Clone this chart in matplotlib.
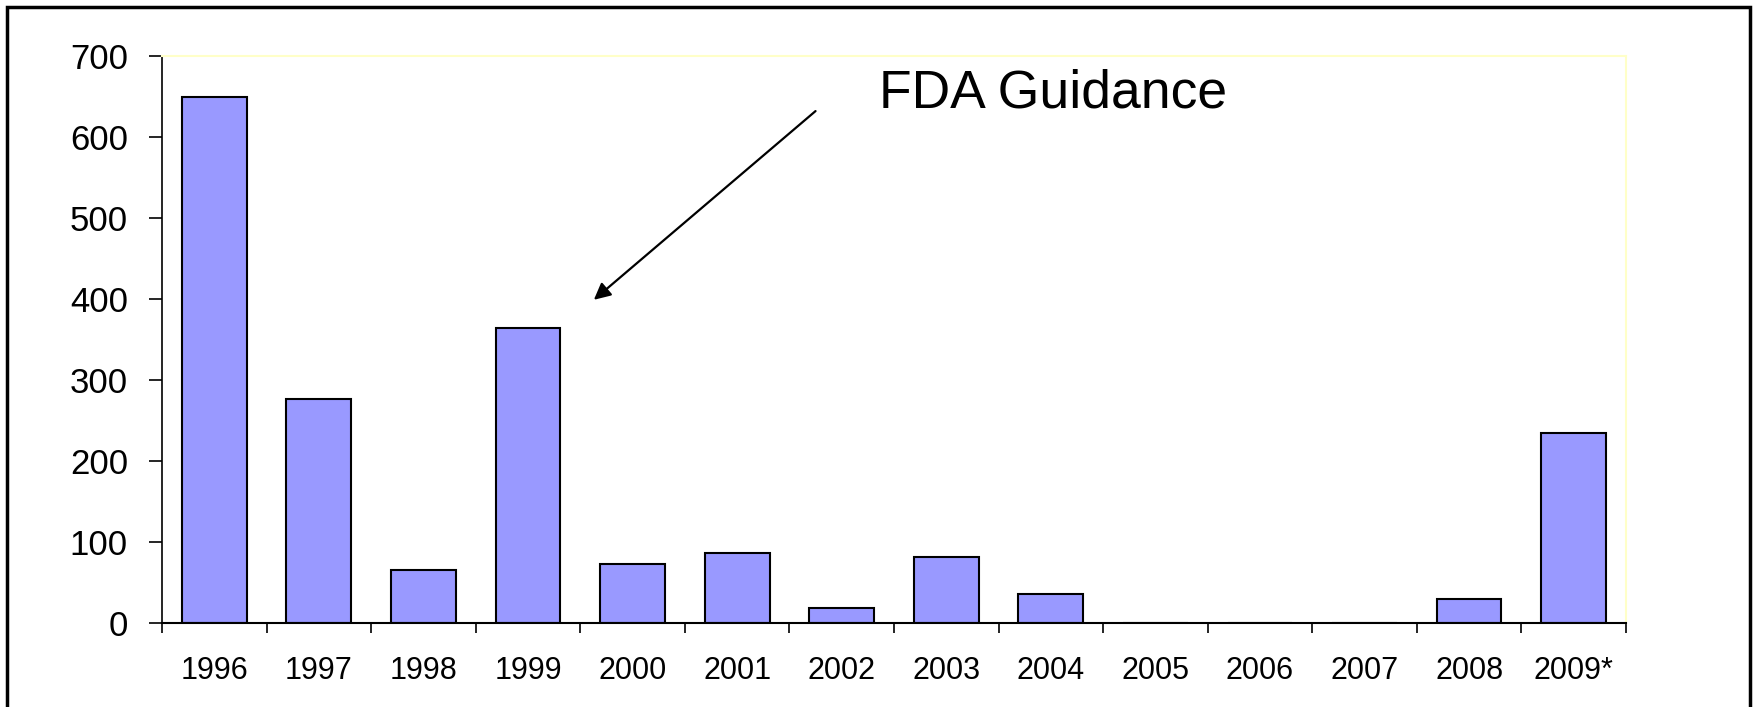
import matplotlib.pyplot as plt
from matplotlib.patches import Rectangle

plt.rcParams['font.family'] = ['Liberation Sans', 'DejaVu Sans']

# data
years = ["1996", "1997", "1998", "1999", "2000", "2001", "2002",
         "2003", "2004", "2005", "2006", "2007", "2008", "2009*"]
counts = [649, 277, 65, 364, 73, 87, 19, 82, 36, 0, 0, 0, 30, 235]

fig = plt.figure(figsize=(17.57, 7.07), dpi=100)
ax = fig.add_axes([0.0922, 0.1188, 0.8332, 0.802])

x = list(range(len(years)))
ax.bar(x, counts, width=0.62, color='#9999FF', edgecolor='black', linewidth=1.5)

ax.set_xlim(-0.5, len(years) - 0.5)
ax.set_ylim(0, 700)
ax.set_yticks(range(0, 701, 100))
ax.tick_params(axis='y', labelsize=25, length=9.5, width=1.2, pad=15)

# labels at bar centres, tick marks between categories
ax.set_xticks(x)
ax.set_xticklabels(years)
ax.set_xticks([i - 0.5 for i in range(len(years) + 1)], minor=True)
ax.tick_params(axis='x', which='major', length=0, labelsize=22, pad=24)
ax.tick_params(axis='x', which='minor', length=7, width=1.2)

ax.spines['left'].set_linewidth(1.2)
ax.spines['bottom'].set_linewidth(1.5)
ax.spines['top'].set_color('#FFFFC8')
ax.spines['right'].set_color('#FFFFC8')
ax.spines['top'].set_linewidth(1.5)
ax.spines['right'].set_linewidth(1.5)

# annotation
ax.annotate("FDA Guidance", xy=(3.63, 399), xytext=(6.36, 637),
            fontsize=38.5, ha='left', va='baseline', annotation_clip=False)
ax.annotate("", xy=(3.63, 399), xytext=(5.75, 632),
            arrowprops=dict(arrowstyle='-|>', color='black', lw=1.6,
                            mutation_scale=25, shrinkA=0, shrinkB=0),
            annotation_clip=False)

# outer frame around the slide
fig.patches.append(Rectangle((7 / 1757, -0.05), 1743 / 1757, 1.05 - 7 / 707,
                             transform=fig.transFigure, fill=False,
                             edgecolor='black', linewidth=2.5))

fig.savefig("out.png", dpi=100)
